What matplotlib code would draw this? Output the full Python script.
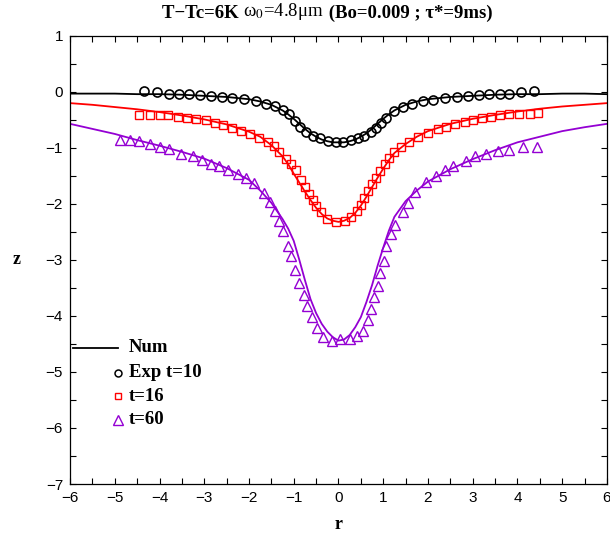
import matplotlib
matplotlib.use("Agg")
import matplotlib.pyplot as plt
from matplotlib.ticker import MultipleLocator

# numerical profiles (Num)
r_num = [-6.0, -5.5, -5.0, -4.5, -4.0, -3.5, -3.0, -2.5, -2.0, -1.75, -1.5, -1.25,
         -1.125, -1.0, -0.875, -0.75, -0.625, -0.5, -0.375, -0.25, -0.125, 0.0,
         0.125, 0.25, 0.375, 0.5, 0.625, 0.75, 0.875, 1.0, 1.125, 1.25,
         1.5, 1.75, 2.0, 2.5, 3.0, 3.5, 4.0, 4.5, 5.0, 5.5, 6.0]
z_num_10 = [-0.03, -0.03, -0.03, -0.04, -0.04, -0.05, -0.07, -0.09, -0.13, -0.17, -0.23, -0.33,
            -0.40, -0.48, -0.57, -0.66, -0.74, -0.80, -0.85, -0.88, -0.90, -0.90,
            -0.90, -0.88, -0.85, -0.80, -0.74, -0.66, -0.57, -0.48, -0.40, -0.33,
            -0.23, -0.17, -0.13, -0.09, -0.07, -0.05, -0.04, -0.04, -0.03, -0.03, -0.04]
z_num_16 = [-0.20, -0.23, -0.27, -0.31, -0.36, -0.42, -0.49, -0.58, -0.71, -0.80, -0.95, -1.15,
            -1.29, -1.46, -1.62, -1.78, -1.93, -2.07, -2.18, -2.26, -2.30, -2.32,
            -2.30, -2.25, -2.16, -2.03, -1.87, -1.70, -1.53, -1.37, -1.22, -1.09,
            -0.93, -0.80, -0.70, -0.57, -0.48, -0.41, -0.35, -0.30, -0.26, -0.23, -0.20]
z_num_60 = [-0.57, -0.66, -0.75, -0.86, -0.96, -1.07, -1.19, -1.36, -1.57, -1.76, -1.98, -2.27,
            -2.44, -2.66, -3.00, -3.36, -3.70, -3.95, -4.14, -4.28, -4.38, -4.44,
            -4.42, -4.34, -4.20, -4.02, -3.75, -3.45, -3.10, -2.78, -2.48, -2.23,
            -1.95, -1.76, -1.60, -1.38, -1.20, -1.04, -0.90, -0.80, -0.70, -0.63, -0.57]

# experiment, t=10
r_exp_10 = [-4.34, -4.05, -3.79, -3.57, -3.33, -3.09, -2.85, -2.61, -2.38, -2.12, -1.85, -1.62,
            -1.41, -1.23, -1.10, -0.98, -0.87, -0.72, -0.57, -0.42, -0.24, -0.05, 0.11, 0.28,
            0.43, 0.58, 0.73, 0.84, 0.95, 1.07, 1.25, 1.44, 1.65, 1.88, 2.12, 2.39, 2.64,
            2.89, 3.14, 3.37, 3.60, 3.82, 4.08, 4.36]
z_exp_10 = [0.01, -0.01, -0.03, -0.03, -0.04, -0.05, -0.07, -0.09, -0.10, -0.13, -0.17, -0.21,
            -0.25, -0.33, -0.40, -0.52, -0.62, -0.72, -0.79, -0.83, -0.87, -0.89, -0.89, -0.86,
            -0.82, -0.78, -0.71, -0.64, -0.56, -0.47, -0.34, -0.27, -0.22, -0.17, -0.15, -0.11,
            -0.09, -0.07, -0.05, -0.04, -0.03, -0.03, -0.01, 0.01]

# experiment, t=16
r_exp_16 = [-4.45, -4.22, -4.00, -3.80, -3.59, -3.39, -3.18, -2.97, -2.77, -2.58, -2.37, -2.17,
            -1.97, -1.78, -1.58, -1.45, -1.32, -1.17, -1.06, -0.95, -0.83, -0.74, -0.66, -0.58,
            -0.50, -0.40, -0.25, -0.05, 0.15, 0.28, 0.42, 0.51, 0.58, 0.66, 0.74, 0.83, 0.92,
            1.03, 1.12, 1.25, 1.40, 1.58, 1.78, 2.00, 2.22, 2.41, 2.61, 2.82, 3.00, 3.21, 3.41,
            3.61, 3.82, 4.03, 4.27, 4.45]
z_exp_16 = [-0.41, -0.41, -0.41, -0.42, -0.44, -0.46, -0.48, -0.50, -0.55, -0.59, -0.65, -0.70,
            -0.76, -0.82, -0.89, -0.96, -1.08, -1.20, -1.29, -1.40, -1.57, -1.70, -1.82, -1.93,
            -2.04, -2.15, -2.26, -2.33, -2.30, -2.24, -2.13, -2.02, -1.90, -1.77, -1.65, -1.53,
            -1.41, -1.28, -1.18, -1.08, -0.98, -0.89, -0.80, -0.73, -0.67, -0.62, -0.57, -0.54,
            -0.50, -0.46, -0.44, -0.42, -0.40, -0.40, -0.40, -0.38]

# experiment, t=60
r_exp_60 = [-4.88, -4.67, -4.46, -4.22, -4.00, -3.78, -3.52, -3.26, -3.05, -2.85, -2.66, -2.47,
            -2.25, -2.06, -1.88, -1.66, -1.52, -1.42, -1.32, -1.23, -1.13, -1.07, -0.98, -0.89,
            -0.78, -0.70, -0.60, -0.48, -0.34, -0.14, 0.04, 0.25, 0.41, 0.54, 0.66, 0.73, 0.80,
            0.88, 0.93, 1.01, 1.07, 1.18, 1.27, 1.44, 1.56, 1.72, 1.96, 2.17, 2.37, 2.57, 2.85,
            3.04, 3.30, 3.56, 3.82, 4.12, 4.43]
z_exp_60 = [-0.85, -0.85, -0.88, -0.93, -0.98, -1.02, -1.10, -1.14, -1.21, -1.28, -1.33, -1.39,
            -1.47, -1.53, -1.62, -1.80, -1.96, -2.13, -2.30, -2.48, -2.75, -2.93, -3.18, -3.41,
            -3.63, -3.82, -4.02, -4.22, -4.38, -4.45, -4.42, -4.42, -4.36, -4.26, -4.08, -3.88,
            -3.67, -3.46, -3.24, -3.01, -2.75, -2.54, -2.38, -2.14, -1.98, -1.78, -1.60, -1.50,
            -1.40, -1.32, -1.23, -1.14, -1.10, -1.05, -1.04, -0.99, -0.98]

PURPLE = "#9400d3"
SERIF = "Liberation Serif"

plt.rcParams["font.family"] = "Liberation Sans"
plt.rcParams["mathtext.fontset"] = "stix"

fig = plt.figure(figsize=(6.10, 5.36), dpi=100)
ax = fig.add_axes([0.1148, 0.097, 0.8802, 0.836])

ax.plot(r_num, z_num_10, color="black", lw=1.3)
ax.plot(r_num, z_num_16, color="red", lw=1.3)
ax.plot(r_num, z_num_60, color=PURPLE, lw=1.3)
ax.plot(r_exp_10, z_exp_10, ls="none", marker="o", ms=6.5, mfc="none", mec="black", mew=1.2)
ax.plot(r_exp_16, z_exp_16, ls="none", marker="s", ms=5.8, mfc="none", mec="red", mew=1.0)
ax.plot(r_exp_60, z_exp_60, ls="none", marker="^", ms=7.2, mfc="none", mec=PURPLE, mew=1.0)

ax.set_xlim(-6, 6)
ax.set_ylim(-7, 1)
ax.xaxis.set_major_locator(MultipleLocator(1))
ax.xaxis.set_minor_locator(MultipleLocator(0.5))
ax.yaxis.set_major_locator(MultipleLocator(1))
ax.yaxis.set_minor_locator(MultipleLocator(0.5))
ax.tick_params(which="both", direction="in", top=True, right=True, length=4, width=0.8)
ax.tick_params(which="major", labelsize=11, pad=5)
for s in ax.spines.values():
    s.set_linewidth(0.9)

fig.text(0.5557, 0.021, "r", family=SERIF, weight="bold", fontsize=13, ha="center", va="center")
fig.text(0.028, 0.515, "z", family=SERIF, weight="bold", fontsize=13, ha="center", va="center")

# title, mixed weights like the original
t1 = fig.text(0.2656, 0.975, "T\u2212Tc=6K ", family=SERIF, weight="bold", fontsize=13.5, va="center")
t2 = ax.annotate("\u03c9$_0$=4.8\u03bcm", xy=(1, 0), xycoords=t1,
                 va="bottom", family=SERIF, fontsize=13.5)
t3 = ax.annotate(" (Bo=0.009 ; \u03c4*=9ms)", xy=(1, 0), xycoords=t2, va="bottom",
                 family=SERIF, weight="bold", fontsize=13.5)

# gnuplot-style key
ax.plot([0.005, 0.09], [0.3036, 0.3036], transform=ax.transAxes, color="black", lw=1.3)
ax.plot([0.09], [0.2478], transform=ax.transAxes, marker="o", ms=5, mfc="none", mec="black", mew=1.1)
ax.plot([0.09], [0.196], transform=ax.transAxes, marker="s", ms=5, mfc="none", mec="red", mew=1.0)
ax.plot([0.09], [0.143], transform=ax.transAxes, marker="^", ms=7, mfc="none", mec=PURPLE, mew=1.0)
for y, lab in zip([0.3036, 0.2478, 0.196, 0.143], ["Num", "Exp t=10", "t=16", "t=60"]):
    ax.text(0.11, y, lab, transform=ax.transAxes, family=SERIF, weight="bold", fontsize=13.5,
            va="center", ha="left")

fig.savefig("out.png", dpi=100)
